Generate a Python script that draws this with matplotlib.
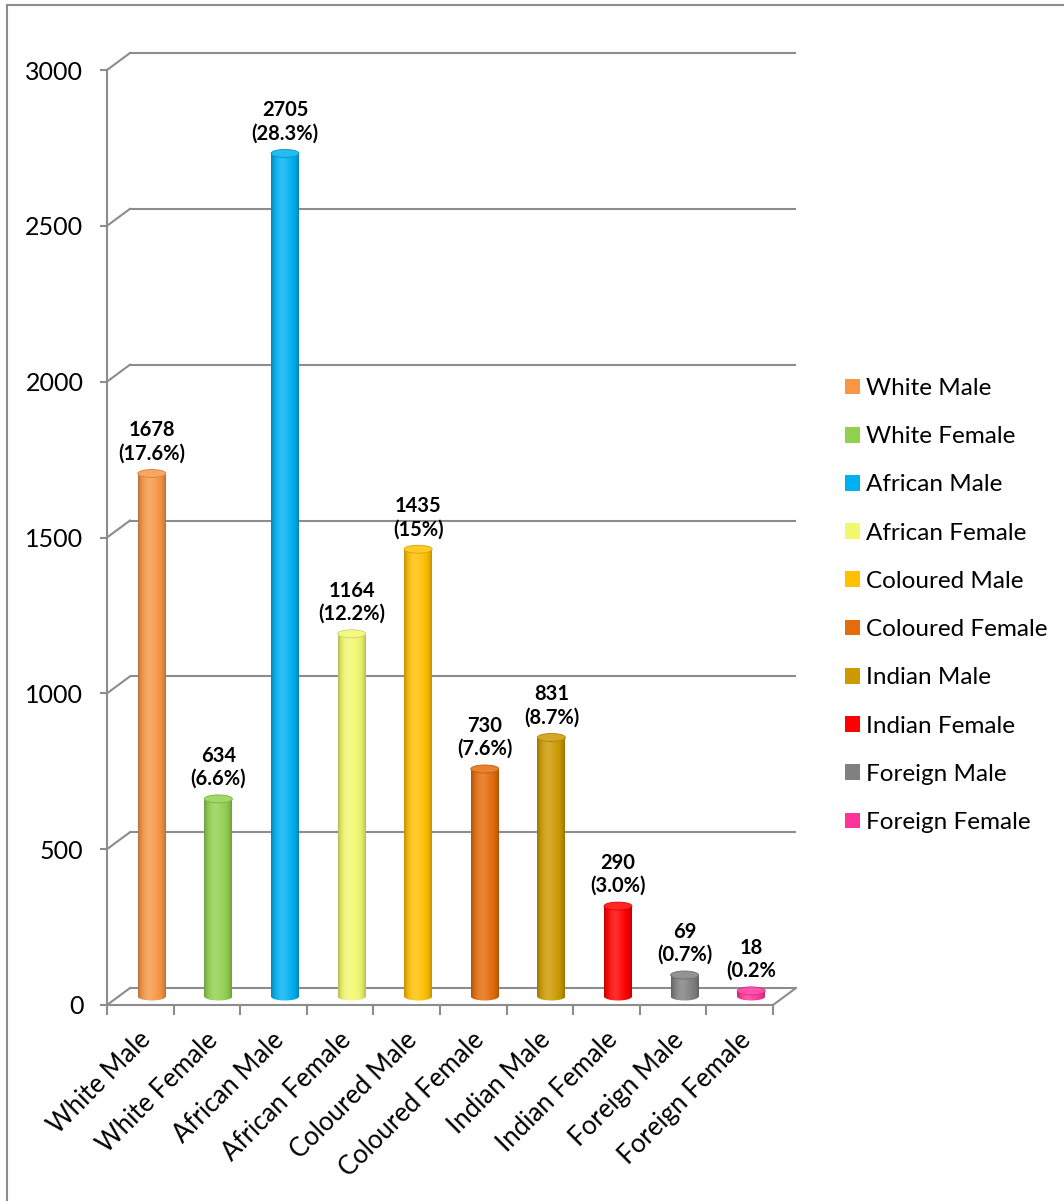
import numpy as np
import matplotlib
matplotlib.use("Agg")
import matplotlib.pyplot as plt
from matplotlib.patches import Ellipse, Rectangle, Patch
from matplotlib.colors import to_rgb
from matplotlib.transforms import ScaledTranslation

plt.rcParams['font.family'] = ['Lato', 'DejaVu Sans']

groups = ['White Male', 'White Female', 'African Male', 'African Female',
          'Coloured Male', 'Coloured Female', 'Indian Male', 'Indian Female',
          'Foreign Male', 'Foreign Female']
counts = [1678, 634, 2705, 1164, 1435, 730, 831, 290, 69, 18]
shares = ['(17.6%)', '(6.6%)', '(28.3%)', '(12.2%)', '(15%)',
          '(7.6%)', '(8.7%)', '(3.0%)', '(0.7%)', '(0.2%']
colors = ['#F79646', '#92D050', '#00B0F0', '#F1F86E', '#FFC000',
          '#E46C0A', '#CC9900', '#FF0000', '#808080', '#FF3399']
yticks = [0, 500, 1000, 1500, 2000, 2500, 3000]

W, H = 1064, 1201
fig = plt.figure(figsize=(W / 100, H / 100), dpi=100)

# front face of the 3-D box in pixel units
fx0, fx1 = 107, 773
fy0, fy1 = 1005, 70
ax = fig.add_axes([fx0 / W, 1 - fy0 / H, (fx1 - fx0) / W, (fy0 - fy1) / H])
n = len(groups)
ymax = yticks[-1]

ppx = (fx1 - fx0) / n
ppy = (fy0 - fy1) / ymax
ddx = 23 / ppx   # depth of the box, data units
ddy = 17 / ppy

grid_c = '#8c8c8c'
ax.set_facecolor('none')
for sp in ['top', 'right']:
    ax.spines[sp].set_visible(False)
for sp in ['left', 'bottom']:
    ax.spines[sp].set_color(grid_c)
    ax.spines[sp].set_linewidth(1.5)

# back wall gridlines and left side wall
ax.hlines([y + ddy for y in yticks], ddx, n + ddx, colors=grid_c, lw=1.5,
          clip_on=False, zorder=1)
for y in yticks:
    ax.plot([0, ddx], [y, y + ddy], color=grid_c, lw=1.5, clip_on=False, zorder=1)
ax.plot([n, n + ddx], [0, ddy], color=grid_c, lw=1.5, clip_on=False, zorder=1)


def shade(rgb):
    t = np.linspace(0, 1, 80)
    hi = 0.18 * np.exp(-((t - 0.4) / 0.25) ** 2)
    dark = 1 - 0.25 * np.abs(2 * t - 1) ** 4
    col = rgb[None, :] * (1 - hi[:, None]) + hi[:, None]
    col = col * dark[:, None]
    return np.clip(col, 0, 1)[None, :, :]


bar_w = 0.42
eh = 8 / ppy
cx = np.arange(n) + 0.5 + ddx / 2
base = ddy / 2
for i in range(n):
    rgb = np.array(to_rgb(colors[i]))
    img = shade(rgb)
    top = base + counts[i]
    # rounded bottom
    bot = Ellipse((cx[i], base), bar_w, eh, fc='none', ec='none')
    ax.add_patch(bot)
    im = ax.imshow(img, extent=(cx[i] - bar_w / 2, cx[i] + bar_w / 2, base - eh / 2, base + eh / 2),
                   aspect='auto', interpolation='bilinear', zorder=3)
    im.set_clip_path(bot)
    # body
    ax.imshow(img, extent=(cx[i] - bar_w / 2, cx[i] + bar_w / 2, base, top),
              aspect='auto', interpolation='bilinear', zorder=4, clip_on=False)
    # cap
    cap = rgb * 0.85 + 0.15
    ax.add_patch(Ellipse((cx[i], top), bar_w, eh, fc=cap, ec=rgb * 0.85, lw=0.6,
                         zorder=5, clip_on=False))
    ax.annotate('%d\n%s' % (counts[i], shares[i]), (cx[i], top), xytext=(0, 10),
                textcoords='offset pixels', ha='center', va='bottom',
                fontsize=14.5, fontweight='bold', linespacing=1.2, zorder=6)

ax.set_xlim(0, n)
ax.set_ylim(0, ymax)

ax.set_yticks(yticks)
ax.tick_params(axis='y', length=5, width=1.5, color=grid_c, labelsize=18, pad=12)
ax.set_xticks(range(n + 1))
ax.set_xticklabels([])
ax.tick_params(axis='x', which='major', length=7, width=1.5, color=grid_c)
ax.set_xticks(np.arange(n) + 0.5, minor=True)
ax.set_xticklabels(groups, minor=True, rotation=45, ha='right',
                   rotation_mode='anchor', fontsize=18.5)
ax.tick_params(axis='x', which='minor', length=0, pad=16)
for lab in ax.get_xticklabels(minor=True):
    lab.set_transform(lab.get_transform() + ScaledTranslation(-0.02, 0, fig.dpi_scale_trans))

handles = [Patch(fc=c, ec='none') for c in colors]
fig.legend(handles, groups, loc='center left', bbox_to_anchor=(845 / W, 1 - 605.5 / H),
           frameon=False, fontsize=17.5, handlelength=0.62, handleheight=0.62,
           handletextpad=0.25, labelspacing=1.12, borderpad=0, borderaxespad=0)

# chart frame
fig.patches.append(Rectangle((6.5 / W, -0.1), 2, 1.1 - 5 / H, transform=fig.transFigure,
                             fill=False, ec='#8c8c8c', lw=1.5))

fig.savefig('out.png', dpi=100)
